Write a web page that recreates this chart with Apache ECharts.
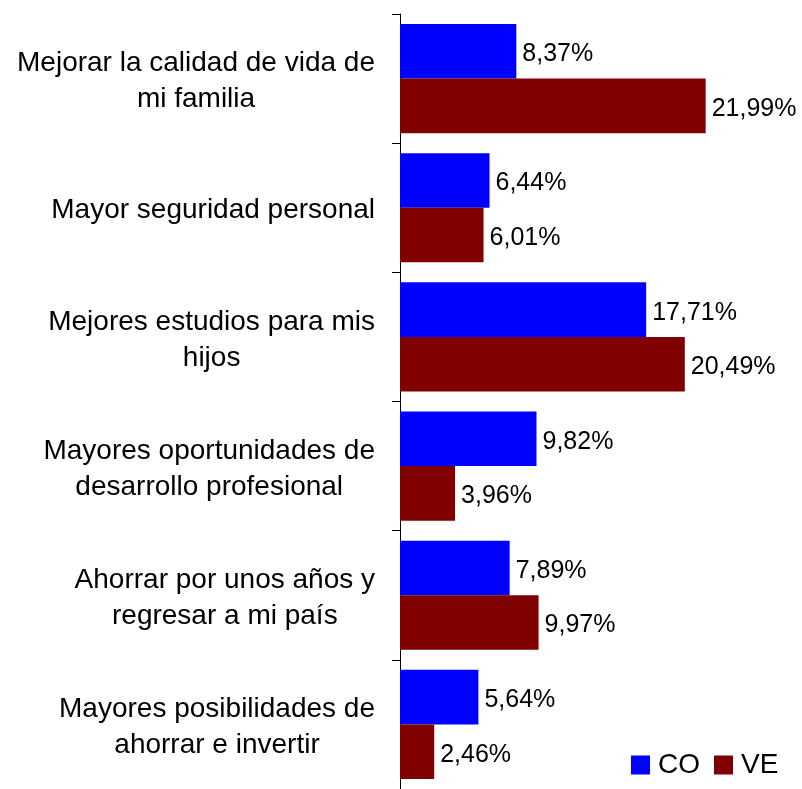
<!DOCTYPE html>
<html>
<head>
<meta charset="utf-8">
<script src="https://cdn.jsdelivr.net/npm/echarts@6/dist/echarts.min.js"></script>
<style>
html,body{margin:0;padding:0;background:#fff;}
#chart{width:802px;height:789px;}
</style>
</head>
<body>
<div id="chart"></div>
<script>
var categories = [
  "Mejorar la calidad de vida de\nmi familia",
  "Mayor seguridad personal",
  "Mejores estudios para mis\nhijos",
  "Mayores oportunidades de\ndesarrollo profesional",
  "Ahorrar por unos años y\nregresar a mi país",
  "Mayores posibilidades de\nahorrar e invertir"
];
var seriesNames = ["CO", "VE"];
var valuesCO = [8.37, 6.44, 17.71, 9.82, 7.89, 5.64];
var valuesVE = [21.99, 6.01, 20.49, 3.96, 9.97, 2.46];
var colors = ["#0000FF", "#800000"];

function fmtPct(v) {
  return v.toFixed(2).replace('.', ',') + '%';
}

var chart = echarts.init(document.getElementById('chart'));
var FONT = '"Liberation Sans", Arial, sans-serif';
var valueLabel = {
  show: true, position: 'right', distance: 6, offset: [0, 3],
  fontSize: 25, color: '#000', fontFamily: FONT,
  formatter: function (p) { return fmtPct(p.value); }
};
chart.setOption({
  animation: false,
  backgroundColor: '#ffffff',
  textStyle: { fontFamily: FONT },
  grid: { left: 400, top: 14, width: 347.5, height: 779, containLabel: false },
  legend: {
    left: 631, top: 751, padding: 0,
    itemWidth: 19, itemHeight: 19, itemGap: 14,
    icon: 'rect',
    data: seriesNames,
    textStyle: { fontSize: 28, color: '#000', fontFamily: FONT, padding: [0, 0, 0, 3] }
  },
  xAxis: {
    type: 'value', min: 0, max: 25, show: false,
    splitLine: { show: false }
  },
  yAxis: {
    type: 'category',
    inverse: true,
    data: categories,
    axisLine: { show: true, lineStyle: { color: '#000', width: 1 } },
    axisTick: { show: true, length: 8, lineStyle: { color: '#000' } },
    axisLabel: {
      margin: 25,
      color: '#000',
      fontSize: 28,
      fontFamily: FONT,
      padding: [6, 0, 0, 0],
      formatter: function (v) {
        return v.split('\n').map(function (s) { return '{c|' + s + '}'; }).join('\n');
      },
      rich: {
        c: { align: 'center', fontSize: 28, lineHeight: 36, color: '#000', fontFamily: FONT }
      }
    }
  },
  series: [
    {
      name: seriesNames[0], type: 'bar', data: valuesCO,
      itemStyle: { color: colors[0] },
      barGap: '0%', barCategoryGap: '15.5%',
      label: valueLabel
    },
    {
      name: seriesNames[1], type: 'bar', data: valuesVE,
      itemStyle: { color: colors[1] },
      barGap: '0%', barCategoryGap: '15.5%',
      label: valueLabel
    }
  ]
});
</script>
</body>
</html>
